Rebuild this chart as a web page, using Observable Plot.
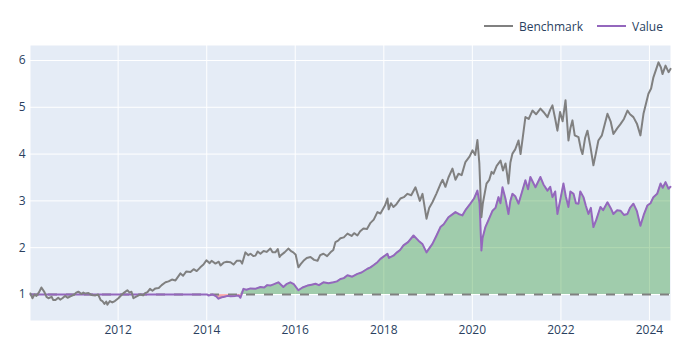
<!DOCTYPE html>
<html><head><meta charset="utf-8">
<script src="https://cdn.jsdelivr.net/npm/d3@7"></script>
<script src="https://cdn.jsdelivr.net/npm/@observablehq/plot@0.6"></script>
<style>
body{margin:0;background:#fff;}
#wrap{position:relative;width:700px;height:350px;font-family:"Open Sans",sans-serif;}
#legend{position:absolute;left:0;top:0;}
</style></head><body><div id="wrap"></div>
<script>
// Benchmark series: [date, value]
const benchmarkSeries = [
["2010-01-08",1.02],["2010-01-24",0.92],["2010-02-10",1.00],["2010-02-26",0.97],["2010-03-20",1.05],["2010-04-08",1.15],
["2010-05-03",1.05],["2010-05-20",0.95],["2010-06-05",0.92],["2010-07-01",0.95],["2010-07-15",0.88],["2010-08-02",0.88],
["2010-08-25",0.93],["2010-09-10",0.89],["2010-09-28",0.92],["2010-10-20",0.97],["2010-11-10",0.93],["2010-12-03",0.96],
["2011-01-05",1.00],["2011-01-20",1.04],["2011-02-07",1.06],["2011-03-05",1.01],["2011-03-20",1.04],["2011-04-06",1.02],
["2011-05-01",1.03],["2011-05-25",0.99],["2011-06-28",0.98],["2011-07-20",1.00],["2011-08-10",0.88],["2011-08-24",0.86],
["2011-09-10",0.80],["2011-09-25",0.85],["2011-10-04",0.78],["2011-10-25",0.86],["2011-11-14",0.83],["2011-12-05",0.86],
["2012-01-03",0.92],["2012-02-01",1.00],["2012-02-20",1.04],["2012-03-17",1.09],["2012-04-05",1.04],["2012-04-20",1.06],
["2012-05-06",0.92],["2012-05-25",0.95],["2012-06-10",0.97],["2012-07-03",1.00],["2012-07-25",0.98],["2012-08-10",1.03],
["2012-08-30",1.05],["2012-09-20",1.12],["2012-10-10",1.08],["2012-11-04",1.13],["2012-12-01",1.14],["2012-12-25",1.20],
["2013-01-26",1.26],["2013-02-20",1.28],["2013-03-20",1.32],["2013-04-18",1.30],["2013-05-10",1.38],["2013-05-29",1.45],
["2013-06-20",1.40],["2013-07-15",1.49],["2013-08-20",1.48],["2013-09-15",1.54],["2013-10-10",1.50],["2013-11-09",1.58],
["2013-12-05",1.64],["2013-12-29",1.73],["2014-01-25",1.67],["2014-02-10",1.72],["2014-03-14",1.66],["2014-04-10",1.70],
["2014-04-25",1.62],["2014-05-20",1.68],["2014-06-15",1.70],["2014-07-16",1.69],["2014-08-10",1.64],["2014-09-05",1.72],
["2014-10-06",1.72],["2014-10-20",1.66],["2014-11-16",1.90],["2014-12-10",1.84],["2014-12-28",1.87],["2015-01-20",1.82],
["2015-02-07",1.83],["2015-02-25",1.92],["2015-03-20",1.87],["2015-04-15",1.93],["2015-05-10",1.91],["2015-06-10",1.98],
["2015-06-28",1.90],["2015-07-21",1.90],["2015-08-10",1.97],["2015-08-25",1.80],["2015-09-01",1.83],["2015-10-05",1.90],
["2015-11-05",1.98],["2015-12-01",1.92],["2015-12-16",1.90],["2016-01-05",1.85],["2016-01-27",1.58],["2016-02-15",1.65],
["2016-03-09",1.72],["2016-04-05",1.78],["2016-05-06",1.80],["2016-06-05",1.74],["2016-07-03",1.72],["2016-07-25",1.84],
["2016-08-21",1.87],["2016-09-20",1.82],["2016-10-18",1.90],["2016-11-10",1.95],["2016-11-28",2.12],["2016-12-20",2.15],
["2017-01-08",2.20],["2017-02-05",2.22],["2017-03-07",2.30],["2017-04-10",2.25],["2017-05-01",2.31],["2017-05-28",2.26],
["2017-06-20",2.35],["2017-07-17",2.41],["2017-08-15",2.40],["2017-09-13",2.53],["2017-10-10",2.60],["2017-11-09",2.76],
["2017-12-04",2.73],["2018-01-10",2.90],["2018-01-31",3.05],["2018-02-10",2.82],["2018-03-01",2.95],["2018-03-21",2.87],
["2018-04-15",2.93],["2018-05-18",3.05],["2018-06-15",3.08],["2018-07-15",3.15],["2018-08-15",3.12],["2018-09-19",3.29],
["2018-10-25",3.00],["2018-11-16",3.15],["2018-12-19",2.62],["2019-01-10",2.85],["2019-02-06",2.97],["2019-03-10",3.15],
["2019-04-13",3.36],["2019-05-01",3.45],["2019-05-24",3.30],["2019-06-18",3.50],["2019-07-21",3.69],["2019-08-15",3.45],
["2019-09-09",3.58],["2019-10-05",3.55],["2019-11-05",3.83],["2019-12-10",3.95],["2020-01-02",4.08],["2020-01-25",3.98],
["2020-02-12",4.30],["2020-02-28",3.80],["2020-03-16",2.65],["2020-03-28",2.95],["2020-04-27",3.37],["2020-05-20",3.45],
["2020-06-08",3.62],["2020-06-24",3.58],["2020-07-20",3.75],["2020-08-21",3.86],["2020-09-10",3.65],["2020-10-01",3.80],
["2020-10-25",3.37],["2020-11-10",3.82],["2020-11-27",4.01],["2020-12-20",4.10],["2021-01-16",4.29],["2021-02-02",4.00],
["2021-02-20",4.35],["2021-03-14",4.79],["2021-04-10",4.75],["2021-05-11",4.93],["2021-06-10",4.85],["2021-07-16",4.97],
["2021-08-10",4.90],["2021-09-12",4.79],["2021-10-05",4.95],["2021-10-23",5.04],["2021-11-15",4.75],["2021-12-03",4.50],
["2021-12-25",4.90],["2022-01-15",4.70],["2022-02-08",5.15],["2022-03-04",4.29],["2022-03-20",4.55],["2022-04-06",4.72],
["2022-04-25",4.40],["2022-05-26",4.36],["2022-06-15",4.10],["2022-06-28",4.00],["2022-07-20",4.35],["2022-08-08",4.50],
["2022-09-02",4.15],["2022-09-26",3.76],["2022-10-15",4.00],["2022-11-06",4.29],["2022-12-05",4.40],["2022-12-20",4.55],
["2023-01-20",4.86],["2023-02-15",4.70],["2023-03-10",4.43],["2023-04-10",4.55],["2023-05-07",4.64],["2023-06-05",4.75],
["2023-07-04",4.93],["2023-07-25",4.85],["2023-08-22",4.79],["2023-09-20",4.65],["2023-10-19",4.40],["2023-11-13",4.86],
["2023-12-24",5.29],["2024-01-15",5.40],["2024-02-03",5.64],["2024-03-16",5.96],["2024-04-05",5.85],["2024-04-18",5.71],
["2024-05-13",5.89],["2024-06-07",5.75],["2024-06-23",5.82]
];
// Strategy value series: [date, value]
const valueSeries = [
["2010-01-08",1.00],["2014-01-05",1.00],["2014-01-15",0.98],["2014-02-17",1.00],["2014-03-20",0.96],["2014-04-08",0.91],
["2014-05-05",0.94],["2014-05-28",0.95],["2014-06-20",0.97],["2014-07-16",0.96],["2014-08-26",0.97],["2014-09-20",0.98],
["2014-10-06",0.93],["2014-10-31",1.12],["2014-11-25",1.10],["2014-12-28",1.13],["2015-02-05",1.12],["2015-03-20",1.16],
["2015-04-20",1.15],["2015-05-15",1.20],["2015-06-10",1.19],["2015-07-10",1.22],["2015-08-15",1.26],["2015-09-25",1.16],
["2015-10-20",1.22],["2015-11-22",1.26],["2015-12-20",1.22],["2016-01-27",1.09],["2016-03-01",1.15],["2016-04-11",1.19],
["2016-05-15",1.21],["2016-06-16",1.23],["2016-07-15",1.20],["2016-08-21",1.26],["2016-10-01",1.24],["2016-11-12",1.26],
["2016-12-10",1.28],["2017-01-08",1.33],["2017-02-05",1.35],["2017-03-07",1.41],["2017-04-15",1.38],["2017-05-28",1.44],
["2017-07-01",1.47],["2017-08-19",1.55],["2017-09-13",1.58],["2017-10-10",1.63],["2017-11-09",1.69],["2017-12-04",1.76],
["2018-01-31",1.87],["2018-02-12",1.78],["2018-03-21",1.83],["2018-04-20",1.90],["2018-05-15",1.95],["2018-06-12",2.05],
["2018-07-20",2.12],["2018-09-03",2.26],["2018-10-14",2.15],["2018-11-15",2.08],["2018-12-19",1.90],["2019-01-15",2.00],
["2019-02-06",2.08],["2019-03-10",2.25],["2019-04-13",2.44],["2019-05-10",2.50],["2019-06-18",2.65],["2019-07-15",2.70],
["2019-08-15",2.76],["2019-09-10",2.72],["2019-10-11",2.69],["2019-11-10",2.82],["2019-12-16",2.94],["2020-01-15",3.05],
["2020-02-12",3.22],["2020-03-01",2.95],["2020-03-16",1.94],["2020-03-25",2.20],["2020-04-18",2.44],["2020-05-15",2.60],
["2020-06-16",2.79],["2020-07-10",2.85],["2020-08-04",3.08],["2020-08-20",2.95],["2020-09-06",3.29],["2020-10-01",3.04],
["2020-10-25",2.72],["2020-11-10",3.00],["2020-11-27",3.15],["2020-12-20",3.10],["2021-01-16",2.94],["2021-02-15",3.20],
["2021-03-14",3.44],["2021-04-05",3.25],["2021-04-24",3.51],["2021-06-05",3.29],["2021-07-16",3.51],["2021-08-10",3.35],
["2021-09-12",3.22],["2021-10-05",3.30],["2021-10-23",3.08],["2021-11-15",3.20],["2021-12-03",2.72],["2021-12-25",3.00],
["2022-01-22",3.37],["2022-02-10",3.10],["2022-03-04",2.87],["2022-03-20",3.20],["2022-04-15",3.15],["2022-05-05",2.95],
["2022-05-26",2.94],["2022-06-10",3.20],["2022-07-06",3.08],["2022-07-25",2.90],["2022-08-16",2.72],["2022-09-05",2.85],
["2022-09-26",2.44],["2022-10-20",2.60],["2022-11-23",2.87],["2022-12-15",2.80],["2023-01-20",2.97],["2023-02-15",2.85],
["2023-03-10",2.72],["2023-04-10",2.80],["2023-05-07",2.79],["2023-06-05",2.70],["2023-07-04",2.72],["2023-07-25",2.85],
["2023-08-22",2.94],["2023-09-20",2.78],["2023-10-19",2.47],["2023-11-15",2.70],["2023-12-15",2.90],["2024-01-10",2.95],
["2024-02-03",3.08],["2024-03-05",3.15],["2024-04-02",3.37],["2024-04-20",3.28],["2024-05-13",3.40],["2024-06-07",3.26],
["2024-06-23",3.30]
];
const yTicks = [1, 2, 3, 4, 5, 6];
const xTickYears = [2012, 2014, 2016, 2018, 2020, 2022, 2024];
const baseline = 1;
const seriesNames = ["Benchmark", "Value"];

const parse = d3.utcParse("%Y-%m-%d");
const bench = benchmarkSeries.map(([d, v]) => ({date: parse(d), v}));
const value = valueSeries.map(([d, v]) => ({date: parse(d), v}));
const xTicks = xTickYears.map(y => new Date(Date.UTC(y, 0, 1)));

const GRAY = "#808080", PURPLE = "#9467bd", TEXT = "#2a3f5f";

const chart = Plot.plot({
  width: 700, height: 350,
  marginLeft: 30, marginRight: 30, marginTop: 45, marginBottom: 30,
  style: {fontFamily: '"Open Sans", sans-serif', fontSize: "12px", color: TEXT, background: "#fff", overflow: "visible"},
  x: {type: "utc", domain: [bench[0].date, bench[bench.length - 1].date], ticks: xTicks, tickFormat: d3.utcFormat("%Y"), tickSize: 0, tickPadding: 5, label: null},
  y: {domain: [0.444, 6.32], ticks: yTicks, tickFormat: d => String(d), tickSize: 0, tickPadding: 5, label: null},
  marks: [
    Plot.frame({fill: "#e5ecf6", stroke: null}),
    Plot.ruleX(xTicks, {stroke: "#fff", strokeWidth: 1, strokeOpacity: 1}),
    Plot.ruleY(yTicks, {stroke: "#fff", strokeWidth: 1, strokeOpacity: 1}),
    Plot.areaY(value, {x: "date", y1: () => baseline, y2: d => Math.max(d.v, baseline), fill: "green", fillOpacity: 0.3}),
    Plot.areaY(value, {x: "date", y1: () => baseline, y2: d => Math.min(d.v, baseline), fill: "red", fillOpacity: 0.3}),
    Plot.ruleY([baseline], {stroke: GRAY, strokeWidth: 2, strokeDasharray: "9,9"}),
    Plot.lineY(value, {x: "date", y: "v", stroke: PURPLE, strokeWidth: 2}),
    Plot.lineY(bench, {x: "date", y: "v", stroke: GRAY, strokeWidth: 2})
  ]
});
const wrap = document.getElementById("wrap");
wrap.appendChild(chart);

// legend
const leg = d3.create("svg").attr("id", "legend").attr("width", 700).attr("height", 45)
  .style("font-family", '"Open Sans", sans-serif').style("font-size", "12px");
const items = [{name: seriesNames[0], color: GRAY, x: 484}, {name: seriesNames[1], color: PURPLE, x: 597}];
for (const it of items) {
  leg.append("line").attr("x1", it.x).attr("x2", it.x + 29).attr("y1", 26).attr("y2", 26).attr("stroke", it.color).attr("stroke-width", 2);
  leg.append("text").attr("x", it.x + 35).attr("y", 30.5).attr("fill", TEXT).text(it.name);
}
wrap.appendChild(leg.node());
</script></body></html>
